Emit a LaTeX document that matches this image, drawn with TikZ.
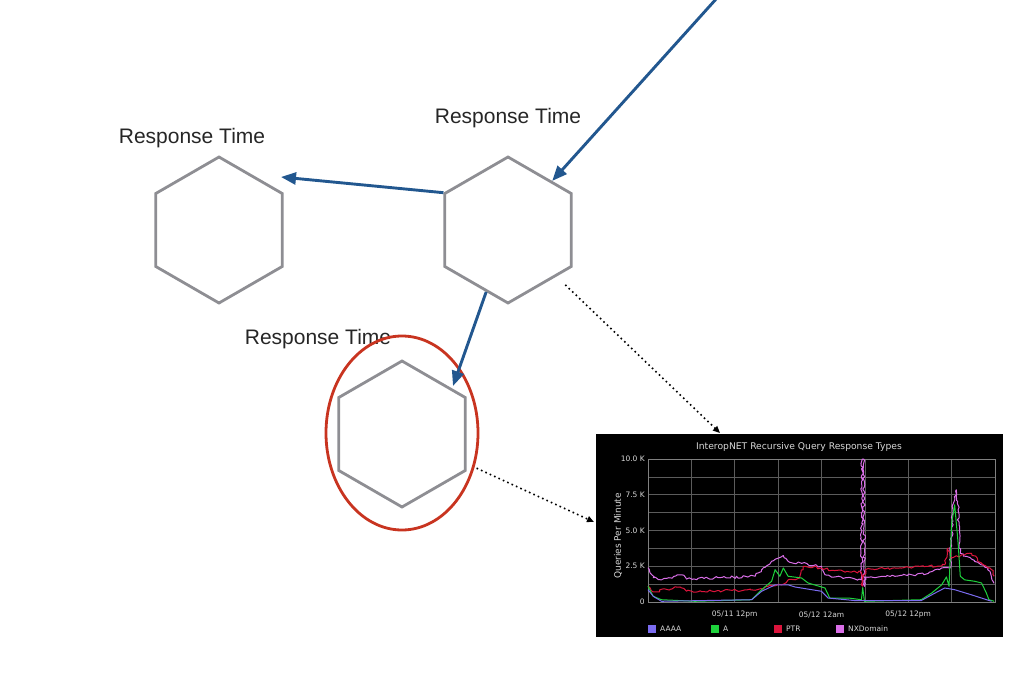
\documentclass[tikz,border=0pt]{standalone}
\usepackage{fontspec}
\setmainfont{Liberation Sans}
\newfontfamily\chartfont{DejaVu Sans}
\usetikzlibrary{shapes.geometric,arrows.meta,decorations.pathmorphing}
\definecolor{hexgray}{HTML}{8E8E93}
\definecolor{linkblue}{HTML}{22578F}
\definecolor{ringred}{HTML}{C83420}
\definecolor{gridgray}{HTML}{5C5C5C}
\definecolor{txtgray}{HTML}{D8D8D8}
\definecolor{aaaacol}{HTML}{7B6CF0}
\definecolor{acol}{HTML}{1ED23C}
\definecolor{ptrcol}{HTML}{DC143C}
\definecolor{nxcol}{HTML}{DA6FE8}
\begin{document}
\begin{tikzpicture}[x=1pt, y=-1pt,
  hexa/.style={regular polygon, regular polygon sides=6, shape border rotate=30, minimum size=146pt, inner sep=0pt, draw=hexgray, line width=2.8pt},
  lbl/.style={font=\fontsize{21}{25}\selectfont, text=black!85, inner sep=0pt},
  link/.style={draw=linkblue, line width=2.9pt, -{Triangle[length=15pt,width=12pt]}},
  dots/.style={line width=1.6pt, dash pattern=on 1.6pt off 3.2pt, -{Triangle[length=7pt,width=6pt]}},
  ctext/.style={text=txtgray, inner sep=0pt, font=\chartfont\fontsize{7.5}{9}\selectfont},
  grid/.style={draw=gridgray, line width=0.6pt},
  jag/.style={decorate, decoration={random steps, segment length=2.5pt, amplitude=1.3pt}},
  series/.style={line width=1pt, line join=round}]
\useasboundingbox (0,0) rectangle (1020,674);
\pgfmathsetseed{7}
% services
\node[hexa] (h1) at (219,230) {};
\node[hexa] (h2) at (508,230) {};
\node[hexa] (h3) at (402,434) {};
\node[lbl] (lbl1) at (192,138) {Response Time};
\node[lbl] (lbl2) at (508,118) {Response Time};
\node[lbl] (lbl3) at (318,339) {Response Time};
\node[ellipse, draw=ringred, line width=2.8pt, minimum width=152pt, minimum height=194pt] (ring) at (402,433) {};
% calls
\coordinate (feed) at (717,-2);
\coordinate (t1) at (281,177);
\coordinate (t3) at (453,386);
\draw[link] (feed) -- (h2);
\draw[link] (h2.150) -- (t1);
\draw[link] (h2) -- (t3);
% chart
\node[fill=black, minimum width=407pt, minimum height=203pt, inner sep=0pt, anchor=north west] (chart) at (596,434) {};
\coordinate (c1) at (720,433);
\coordinate (c2) at (594,522);
\draw[dots, shorten <=12pt] (h2) -- (c1);
\draw[dots, shorten <=11pt] (h3) -- (c2);
\node[ctext, font=\chartfont\fontsize{9.2}{11}\selectfont] (ttl) at (799,447) {InteropNET Recursive Query Response Types};
\node[ctext, font=\chartfont\fontsize{9}{11}\selectfont, rotate=90] (ylab) at (618,536) {Queries Per Minute};
\begin{scope}[shift={(648,602)}, x=43.375pt, y=14.3pt]
  \foreach \t in {1,...,7} \draw[grid] (\t,0) -- (\t,10);
  \foreach \v in {1.25,2.5,3.75,5,6.25,7.5,8.75} \draw[grid] (0,\v) -- (8,\v);
  \draw[draw=gray, line width=0.6pt] (0,0) rectangle (8,10);
  \foreach \v/\l in {0/0, 2.5/2.5 K, 5/5.0 K, 7.5/7.5 K, 10/10.0 K}
    \node[ctext, anchor=east] at (-0.07,\v) {\l};
  \foreach \t/\l in {2/{05/11 12pm}, 4/{05/12 12am}, 6/{05/12 12pm}}
    \node[ctext] at (\t,-0.9) {\l};
  \draw[series, nxcol, jag] plot coordinates {(0,2.4) (0.12,1.7) (0.31,1.55) (0.78,1.9) (0.89,1.6) (2.47,1.8) (2.62,2.26) (2.85,2.85) (3.12,3.25) (3.23,2.85) (3.54,2.7) (4.0,2.5) (4.08,1.9) (4.31,1.75) (4.92,1.55) (4.94,10) (4.97,10) (4.99,1.1) (5.02,1.75) (5.69,1.8) (6.46,2.0) (6.77,2.38) (6.96,2.38) (7.04,6.9) (7.11,7.85) (7.15,6.45) (7.2,3.4) (7.46,3.0) (7.69,2.6) (7.84,2.38) (7.93,1.55) (7.98,1.3)};
  \draw[series, ptrcol, jag] plot coordinates {(0,1.1) (0.12,0.7) (0.74,1.05) (0.89,0.75) (2.47,0.82) (2.77,1.1) (3.08,1.2) (3.23,1.55) (3.5,1.68) (3.58,2.5) (4.0,2.38) (4.31,2.2) (4.92,2.07) (4.95,1.1) (5.01,2.26) (5.69,2.38) (6.46,2.5) (6.84,2.6) (6.92,3.78) (7.0,3.08) (7.23,3.3) (7.46,3.4) (7.69,2.7) (7.92,2.26) (7.98,1.8)};
  \draw[series, acol] plot coordinates {(0,1.1) (0.12,0.4) (0.31,0.16) (1.08,0.05) (2.39,0.16) (2.62,0.86) (2.85,1.45) (2.93,2.26) (3.04,1.8) (3.12,2.38) (3.23,1.8) (3.54,1.68) (3.69,1.33) (4.08,0.98) (4.19,0.28) (4.62,0.28) (4.92,0.16) (4.95,1.0) (4.99,0.05) (6.3,0.16) (6.54,0.63) (6.77,1.2) (6.88,1.75) (6.94,1.1) (7.0,5.5) (7.07,6.8) (7.15,4.1) (7.2,1.8) (7.3,1.55) (7.53,1.45) (7.69,1.33) (7.8,0.63) (7.86,0.16) (7.98,0.05)};
  \draw[series, aaaacol] plot coordinates {(0,0.86) (0.12,0.4) (0.31,0.05) (2.39,0.16) (2.62,0.75) (2.93,1.2) (3.23,1.2) (3.39,1.05) (4.0,0.75) (4.15,0.28) (4.77,0.1) (6.3,0.1) (6.54,0.5) (6.84,0.98) (7.07,0.86) (7.46,0.5) (7.92,0.05)};
\end{scope}
% legend
\foreach \x/\c/\l in {648/aaaacol/AAAA, 711/acol/A, 774/ptrcol/PTR, 836/nxcol/NXDomain} {
  \fill[\c] (\x,625) rectangle ++(8,8);
  \node[ctext, anchor=west] at (\x+12,629) {\l};
}
\end{tikzpicture}
\end{document}
